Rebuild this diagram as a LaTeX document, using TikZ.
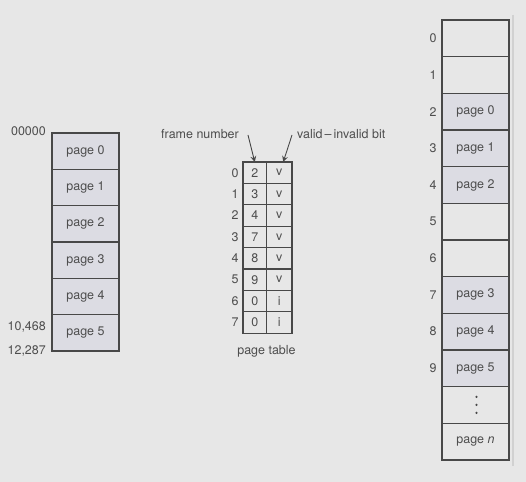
\documentclass[tikz,border=0pt]{standalone}
\usepackage{fontspec}
\setmainfont{TeX Gyre Heros}
\usepackage{tikz}
\usetikzlibrary{arrows,positioning}
\definecolor{bgcolor}{HTML}{E7E7E7}
\definecolor{pagecolor}{HTML}{DCDCE3}
\definecolor{linecolor}{HTML}{484848}
\definecolor{textcolor}{HTML}{4D4D4D}

\begin{document}
\begin{tikzpicture}[
    x=0.02cm, y=-0.02cm,
    font=\fontsize{7.1}{8.5}\selectfont, text=textcolor,
    cell/.style={rectangle, draw=linecolor, line width=0.7pt, minimum width=1.34cm, inner sep=0pt, outer sep=0pt, align=center},
    lpage/.style={cell, fill=pagecolor, minimum height=0.7267cm},
    fpage/.style={cell, fill=pagecolor, minimum height=0.7333cm},
    fempty/.style={cell, minimum height=0.7333cm},
    entry/.style={rectangle, draw=linecolor, line width=0.7pt, minimum height=0.428cm, inner sep=0pt, outer sep=0pt},
    fcol/.style={entry, minimum width=0.47cm},
    vcol/.style={entry, minimum width=0.51cm},
    arrow/.style={->, >=stealth, line width=0.5pt, draw=linecolor}
]
    \fill[bgcolor] (0,0) rectangle (526,482);
    \draw[line width=0.6pt, color=black!18] (513,15) -- (513,466);

    % logical memory
    \node[lpage, anchor=north west] (l0) at (52,133) {page 0};
    \node[lpage, below=0pt of l0] (l1) {page 1};
    \node[lpage, below=0pt of l1] (l2) {page 2};
    \node[lpage, below=0pt of l2] (l3) {page 3};
    \node[lpage, below=0pt of l3] (l4) {page 4};
    \node[lpage, below=0pt of l4] (l5) {page 5};

    \node[anchor=east, yshift=1pt] (a0) at (l0.north west) {00000};
    \node[anchor=east] (a1) at ([shift={(0,12)}]l5.north west) {10,468};
    \node[anchor=east] (a2) at (l5.south west) {12,287};

    % page table
    \node[fcol, anchor=north west] (t0f) at (243,162) {2};
    \node[vcol, right=0pt of t0f] (t0v) {v};
    \node[fcol, below=0pt of t0f] (t1f) {3};
    \node[vcol, right=0pt of t1f] (t1v) {v};
    \node[fcol, below=0pt of t1f] (t2f) {4};
    \node[vcol, right=0pt of t2f] (t2v) {v};
    \node[fcol, below=0pt of t2f] (t3f) {7};
    \node[vcol, right=0pt of t3f] (t3v) {v};
    \node[fcol, below=0pt of t3f] (t4f) {8};
    \node[vcol, right=0pt of t4f] (t4v) {v};
    \node[fcol, below=0pt of t4f] (t5f) {9};
    \node[vcol, right=0pt of t5f] (t5v) {v};
    \node[fcol, below=0pt of t5f] (t6f) {0};
    \node[vcol, right=0pt of t6f] (t6v) {i};
    \node[fcol, below=0pt of t6f] (t7f) {0};
    \node[vcol, right=0pt of t7f] (t7v) {i};

    \node[left=-1pt of t0f] (n0) {0};
    \node[left=-1pt of t1f] (n1) {1};
    \node[left=-1pt of t2f] (n2) {2};
    \node[left=-1pt of t3f] (n3) {3};
    \node[left=-1pt of t4f] (n4) {4};
    \node[left=-1pt of t5f] (n5) {5};
    \node[left=-1pt of t6f] (n6) {6};
    \node[left=-1pt of t7f] (n7) {7};

    \node[below=3.5pt of t7f.south east] (ptab) {page table};
    \node (fnum) at (200,134) {frame number};
    \node[anchor=west] (vbit) at (291,134) {valid\,--\,invalid bit};

    \draw[arrow] ([shift={(3,1)}]fnum.east) -- (t0f.north);
    \draw[arrow] ([shift={(1,1)}]vbit.west) -- ([shift={(4,0)}]t0v.north);

    % physical memory
    \node[fempty, anchor=north west] (r0) at (442,20) {};
    \node[fempty, below=0pt of r0] (r1) {};
    \node[fpage, below=0pt of r1] (r2) {page 0};
    \node[fpage, below=0pt of r2] (r3) {page 1};
    \node[fpage, below=0pt of r3] (r4) {page 2};
    \node[fempty, below=0pt of r4] (r5) {};
    \node[fempty, below=0pt of r5] (r6) {};
    \node[fpage, below=0pt of r6] (r7) {page 3};
    \node[fpage, below=0pt of r7] (r8) {page 4};
    \node[fpage, below=0pt of r8] (r9) {page 5};
    \node[fempty, below=0pt of r9] (r10) {};
    \node[fempty, below=0pt of r10] (r11) {page \textit{n}};
    \fill[linecolor] ([shift={(1,-8)}]r10.center) circle (1.2)
                     ([shift={(1,0)}]r10.center) circle (1.2)
                     ([shift={(1,8)}]r10.center) circle (1.2);

    \node[left=-0.5pt of r0] (k0) {0};
    \node[left=-0.5pt of r1] (k1) {1};
    \node[left=-0.5pt of r2] (k2) {2};
    \node[left=-0.5pt of r3] (k3) {3};
    \node[left=-0.5pt of r4] (k4) {4};
    \node[left=-0.5pt of r5] (k5) {5};
    \node[left=-0.5pt of r6] (k6) {6};
    \node[left=-0.5pt of r7] (k7) {7};
    \node[left=-0.5pt of r8] (k8) {8};
    \node[left=-0.5pt of r9] (k9) {9};
\end{tikzpicture}
\end{document}
